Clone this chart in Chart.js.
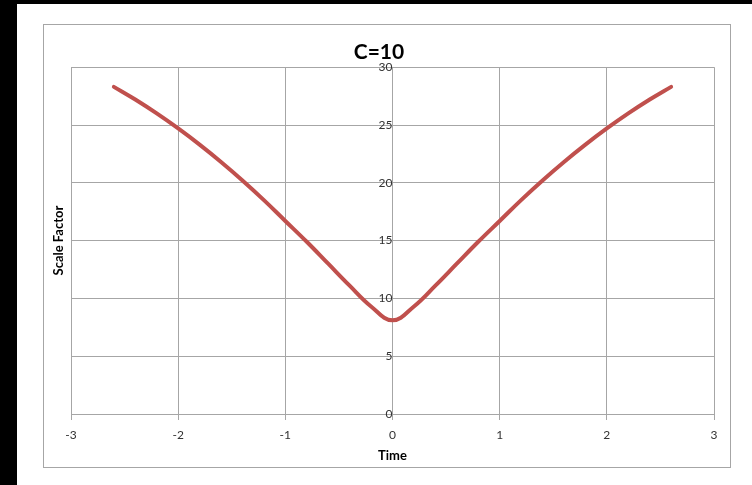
<!DOCTYPE html>
<html>
<head>
<meta charset="utf-8">
<script src="https://cdn.jsdelivr.net/npm/chart.js@4"></script>
<style>
  html, body { margin: 0; padding: 0; background: #fff; width: 752px; height: 485px; overflow: hidden; }
  #edge-left { position: absolute; left: 0; top: 0; width: 17px; height: 485px; background: #000; }
  #edge-top { position: absolute; left: 0; top: 0; width: 752px; height: 4px; background: #000; }
  #frame { position: absolute; left: 43px; top: 24px; width: 688px; height: 444px; box-sizing: border-box; border: 1px solid #a6a6a6; }
  #wrap { position: relative; width: 686px; height: 442px; }
</style>
</head>
<body>
<div id="edge-left"></div>
<div id="edge-top"></div>
<div id="frame"><div id="wrap"><canvas id="chart"></canvas></div></div>
<script>
// values
const timeValues = [-2.6, -2.4, -2.2, -2.0, -1.8, -1.6, -1.4, -1.2, -1.0, -0.8, -0.6, -0.4, -0.2, 0,
                    0.2, 0.4, 0.6, 0.8, 1.0, 1.2, 1.4, 1.6, 1.8, 2.0, 2.2, 2.4, 2.6];
const scaleFactorValues = [28.3, 27.2, 26.0, 24.7, 23.3, 21.8, 20.2, 18.5, 16.7, 14.9, 13.0, 11.1, 9.3, 8.1,
                           9.3, 11.1, 13.0, 14.9, 16.7, 18.5, 20.2, 21.8, 23.3, 24.7, 26.0, 27.2, 28.3];
const xTicks = [-3, -2, -1, 0, 1, 2, 3];
const yTicks = [0, 5, 10, 15, 20, 25, 30];
const chartTitle = 'C=10';
const xTitle = 'Time';
const yTitle = 'Scale Factor';

const gridColor = '#a6a6a6';
const labelFont = { family: 'Lato', size: 12 };

const points = timeValues.map((t, i) => ({ x: t, y: scaleFactorValues[i] }));

new Chart(document.getElementById('chart'), {
    type: 'scatter',
    data: {
        datasets: [{
            data: points,
            showLine: true,
            borderColor: '#c0504d',
            backgroundColor: '#c0504d',
            borderWidth: 4,
            pointRadius: 0,
            tension: 0.4,
            borderCapStyle: 'round'
        }]
    },
    options: {
        animation: false,
        responsive: true,
        maintainAspectRatio: false,
        layout: { padding: { left: 0, right: 16, top: 0, bottom: 0 } },
        plugins: {
            legend: { display: false },
            tooltip: { enabled: false },
            title: {
                display: true,
                text: chartTitle,
                color: '#000',
                font: { family: 'Lato', size: 21, weight: 'bold' },
                padding: { top: 15, bottom: 2 }
            }
        },
        scales: {
            x: {
                type: 'linear',
                position: 'bottom',
                min: xTicks[0],
                max: xTicks[xTicks.length - 1],
                afterBuildTicks: (scale) => { scale.ticks = xTicks.map(v => ({ value: v })); },
                ticks: { color: '#333', font: labelFont, padding: 8, maxRotation: 0 },
                grid: { color: gridColor, tickLength: 6, tickColor: gridColor },
                border: { color: gridColor },
                title: {
                    display: true,
                    text: xTitle,
                    color: '#000',
                    font: { family: 'Lato', size: 13, weight: 'bold' },
                    padding: { top: 0, bottom: 3 }
                },
                afterFit: (scale) => { scale.height = 53; }
            },
            y: {
                type: 'linear',
                position: 'left',
                min: yTicks[0],
                max: yTicks[yTicks.length - 1],
                afterBuildTicks: (scale) => { scale.ticks = yTicks.map(v => ({ value: v })); },
                ticks: { display: false },
                grid: { color: gridColor, tickLength: 0 },
                border: { color: gridColor },
                title: {
                    display: true,
                    text: yTitle,
                    color: '#000',
                    font: { family: 'Lato', size: 13, weight: 'bold' },
                    padding: { top: 7, bottom: 0 }
                },
                afterFit: (scale) => { scale.width = 27; }
            },
            yAxis: {
                type: 'linear',
                position: { x: 0 },
                min: yTicks[0],
                max: yTicks[yTicks.length - 1],
                afterBuildTicks: (scale) => { scale.ticks = yTicks.map(v => ({ value: v })); },
                ticks: { color: '#333', font: labelFont, padding: 10 },
                grid: { drawOnChartArea: false, tickLength: 5, color: gridColor },
                border: { color: gridColor }
            }
        }
    }
});
</script>
</body>
</html>
